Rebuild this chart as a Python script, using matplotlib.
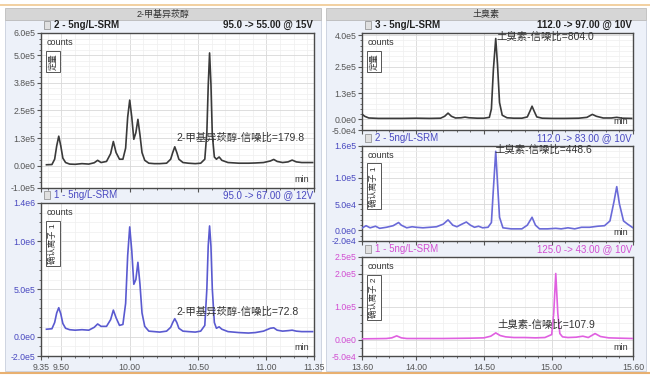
import matplotlib
matplotlib.use('Agg')
import matplotlib.pyplot as plt
from matplotlib.ticker import FixedLocator, MultipleLocator, NullFormatter
from matplotlib.patches import Rectangle

plt.rcParams['font.family'] = ['Liberation Sans', 'Noto Sans CJK SC']

# ---- data (time in min, counts) ----
mib_t = [9.39, 9.43, 9.45, 9.465, 9.48, 9.495, 9.51, 9.53, 9.56, 9.60, 9.65, 9.70, 9.74, 9.765,
         9.79, 9.83, 9.86, 9.88, 9.90, 9.925, 9.95, 9.97, 9.985, 10.0, 10.015, 10.03, 10.045,
         10.06, 10.075, 10.09, 10.11, 10.14, 10.18, 10.22, 10.27, 10.30, 10.315, 10.33, 10.345,
         10.36, 10.39, 10.43, 10.48, 10.52, 10.55, 10.565, 10.575, 10.585, 10.595, 10.605, 10.62,
         10.635, 10.655, 10.675, 10.72, 10.80, 10.87, 10.92, 10.98, 11.03, 11.055, 11.08, 11.12,
         11.16, 11.19, 11.22, 11.26, 11.30, 11.34]
mib_quant = [0.05, 0.06, 0.3, 0.9, 1.34, 0.9, 0.35, 0.15, 0.08, 0.07, 0.1, 0.08, 0.14, 0.25,
             0.15, 0.2, 0.55, 1.1, 0.6, 0.3, 0.3, 0.8, 2.2, 2.97, 2.2, 1.2, 1.5,
             2.1, 1.4, 0.6, 0.25, 0.12, 0.1, 0.1, 0.12, 0.3, 0.6, 0.86, 0.6,
             0.3, 0.15, 0.12, 0.1, 0.12, 0.3, 1.5, 3.6, 5.1, 3.7, 1.4, 0.4,
             0.3, 0.4, 0.25, 0.15, 0.12, 0.12, 0.13, 0.15, 0.22, 0.29, 0.2, 0.15,
             0.18, 0.26, 0.18, 0.15, 0.15, 0.15]  # x 1e5
mib_qual = [0.8, 0.85, 1.5, 2.5, 3.05, 2.4, 1.4, 0.9, 0.75, 0.7, 0.75, 0.7, 1.0, 1.35,
            1.1, 1.1, 1.8, 2.8, 2.0, 1.2, 1.3, 3.5, 8.5, 11.5, 9.0, 5.5, 6.0,
            7.8, 5.5, 2.5, 1.1, 0.6, 0.55, 0.5, 0.6, 1.0, 1.5, 1.9, 1.5,
            0.9, 0.6, 0.55, 0.5, 0.6, 1.2, 5.0, 9.5, 11.6, 9.5, 5.0, 1.5,
            0.9, 1.05, 0.8, 0.55, 0.45, 0.4, 0.45, 0.6, 0.9, 0.95, 0.7, 0.6,
            0.65, 0.7, 0.6, 0.55, 0.55, 0.55]  # x 1e5

geo_t1 = [13.60, 13.62, 13.65, 13.72, 13.80, 13.90, 14.00, 14.10, 14.18, 14.21, 14.235, 14.26,
          14.29, 14.33, 14.36, 14.39, 14.45, 14.50, 14.54, 14.555, 14.57, 14.587, 14.60, 14.615,
          14.635, 14.67, 14.72, 14.78, 14.82, 14.84, 14.855, 14.87, 14.89, 14.93, 15.00, 15.10,
          15.20, 15.26, 15.30, 15.33, 15.38, 15.44, 15.48, 15.52, 15.59]
geo_quant = [0.25, 0.15, 0.07, 0.05, 0.05, 0.05, 0.06, 0.05, 0.06, 0.15, 0.3, 0.15,
             0.07, 0.08, 0.11, 0.08, 0.06, 0.06, 0.1, 0.5, 2.4, 3.84, 2.6, 0.8,
             0.2, 0.08, 0.06, 0.06, 0.12, 0.4, 0.63, 0.4, 0.12, 0.06, 0.05, 0.05,
             0.06, 0.1, 0.24, 0.15, 0.07, 0.07, 0.1, 0.06, 0.05]  # x 1e5

geo_t2 = [13.60, 13.63, 13.66, 13.70, 13.73, 13.78, 13.83, 13.87, 13.89, 13.93, 13.97, 14.00,
          14.05, 14.10, 14.15, 14.20, 14.235, 14.27, 14.30, 14.33, 14.37, 14.40, 14.43, 14.46,
          14.49, 14.53, 14.555, 14.57, 14.587, 14.60, 14.615, 14.64, 14.70, 14.78, 14.82, 14.855,
          14.88, 14.91, 14.97, 15.03, 15.07, 15.12, 15.17, 15.22, 15.28, 15.34, 15.39, 15.43,
          15.46, 15.48, 15.50, 15.53, 15.56, 15.60]
geo_qual1 = [0.45, 0.9, 0.5, 0.8, 0.4, 0.6, 0.9, 1.5, 1.0, 0.5, 0.7, 0.6,
             0.5, 0.6, 0.7, 1.2, 2.0, 1.0, 0.7, 1.1, 1.6, 1.0, 0.6, 0.8,
             0.5, 0.6, 1.5, 8.0, 15.0, 9.0, 2.5, 0.5, 0.3, 0.3, 1.0, 2.5,
             1.0, 0.3, 0.3, 0.4, 0.3, 0.5, 0.3, 0.6, 0.6, 0.8, 0.9, 1.8,
             5.5, 8.3, 5.0, 1.8, 1.2, 0.5]  # x 1e4

geo_t3 = [13.60, 13.70, 13.78, 13.82, 13.856, 13.89, 13.93, 14.00, 14.10, 14.20, 14.30, 14.40,
          14.50, 14.55, 14.587, 14.62, 14.66, 14.72, 14.80, 14.88, 14.95, 15.00, 15.015, 15.03,
          15.045, 15.06, 15.08, 15.12, 15.18, 15.23, 15.27, 15.32, 15.36, 15.42, 15.50, 15.60]
geo_qual2 = [0.2, 0.25, 0.3, 0.5, 1.1, 0.5, 0.3, 0.3, 0.3, 0.3, 0.35, 0.4,
             0.5, 1.0, 2.0, 1.2, 0.8, 0.6, 0.6, 0.5, 0.6, 1.5, 8.0, 20.0,
             8.0, 1.8, 0.8, 0.6, 0.7, 1.0, 0.6, 1.8, 0.9, 0.5, 0.4, 0.3]  # x 1e4

left_xticks = [9.35, 9.50, 10.00, 10.50, 11.00, 11.35]
left_xlabels = ['9.35', '9.50', '10.00', '10.50', '11.00', '11.35']
right_xticks = [13.60, 14.00, 14.50, 15.00, 15.60]
right_xlabels = ['13.60', '14.00', '14.50', '15.00', '15.60']

tl_yticks = [-1.0e5, 0, 1.25e5, 2.5e5, 3.75e5, 5.0e5, 6.0e5]
tl_ylabels = ['-1.0e5', '0.0e0', '1.3e5', '2.5e5', '3.8e5', '5.0e5', '6.0e5']
bl_yticks = [-2.0e5, 0, 5.0e5, 1.0e6, 1.4e6]
bl_ylabels = ['-2.0e5', '0.0e0', '5.0e5', '1.0e6', '1.4e6']
tr_yticks = [-5.0e4, 0, 1.25e5, 2.5e5, 4.0e5]
tr_ylabels = ['-5.0e4', '0.0e0', '1.3e5', '2.5e5', '4.0e5']
mr_yticks = [-2.0e4, 0, 5.0e4, 1.0e5, 1.6e5]
mr_ylabels = ['-2.0e4', '0.0e0', '5.0e4', '1.0e5', '1.6e5']
br_yticks = [-5.0e4, 0, 1.0e5, 2.0e5, 2.5e5]
br_ylabels = ['-5.0e4', '0.0e0', '1.0e5', '2.0e5', '2.5e5']

W, H = 650, 381
fig = plt.figure(figsize=(W / 100, H / 100), dpi=100)

BLUE = '#4848c0'
MAG = '#d24ed2'
GRAY = '#555555'


def fx(x):
    return x / W


def fy(y):
    return 1 - y / H


def rect(x0, y0, x1, y1, **kw):
    fig.add_artist(Rectangle((fx(x0), fy(y1)), (x1 - x0) / W, (y1 - y0) / H,
                             transform=fig.transFigure, zorder=-10, **kw))


# column backgrounds and header bars
for x0, x1, name, cx in [(5, 321, '2-甲基异莰醇', 163), (326, 646, '土臭素', 486)]:
    rect(x0, 20, x1, 371, facecolor='#edf1f9', edgecolor='#c8cfdd', lw=0.6)
    rect(x0, 8, x1, 20, facecolor='#d6d6d6', edgecolor='#bdbdbd', lw=0.6)
    fig.text(fx(cx), fy(14), name, ha='center', va='center', fontsize=6.5, color='#333333')
fig.add_artist(plt.Line2D([0, 1], [fy(4.5), fy(4.5)], color='#f0c890', lw=1.2, transform=fig.transFigure))
fig.add_artist(plt.Line2D([0, 1], [fy(373), fy(373)], color='#e8b070', lw=1.5, transform=fig.transFigure))


def panel(box, t, v, scale, ylim, yticks, ylabels, yminor, xlim, xticks, xlabels,
          color, line_color, bold, title_l, title_r, tag, note, note_xy):
    l, top, r, b = box
    ax = fig.add_axes([fx(l), fy(b), (r - l) / W, (b - top) / H])
    ax.plot(t, [s * scale for s in v], color=line_color, lw=1.2, zorder=3)
    ax.set_xlim(xlim)
    ax.set_ylim(ylim)
    ax.yaxis.set_major_locator(FixedLocator(yticks))
    ax.set_yticklabels(ylabels)
    ax.yaxis.set_minor_locator(MultipleLocator(yminor))
    ax.xaxis.set_major_locator(FixedLocator(xticks))
    ax.xaxis.set_minor_locator(MultipleLocator(0.1))
    if xlabels:
        ax.set_xticklabels(xlabels)
    else:
        ax.xaxis.set_major_formatter(NullFormatter())
        ax.tick_params(axis='x', which='both', length=0)
    ax.tick_params(axis='y', which='major', length=3, labelsize=6.3, labelcolor=color, color=GRAY, pad=1)
    ax.tick_params(axis='y', which='minor', length=1.5, color=GRAY)
    ax.tick_params(axis='x', which='major', length=3, labelsize=6.3, labelcolor=GRAY, color=GRAY, pad=2)
    ax.tick_params(axis='x', which='minor', length=1.5, color=GRAY)
    ax.grid(True, which='major', color='#d8d8d8', lw=0.6)
    ax.grid(True, which='minor', color='#efefef', lw=0.5)
    ax.set_axisbelow(True)
    for s in ax.spines.values():
        s.set_color('#4a4a4a')
        s.set_linewidth(1.0)
    ax.annotate('counts', xy=(0, 1), xycoords='axes fraction', xytext=(6, -5),
                textcoords='offset pixels', fontsize=6.5, color='#333333', va='top')
    ax.annotate(tag, xy=(0, 1), xycoords='axes fraction', xytext=(12, -20),
                textcoords='offset pixels', fontsize=6, color='#333333', va='top', ha='center',
                rotation=90, bbox=dict(boxstyle='square,pad=0.3', fc='white', ec='#555555', lw=0.7))
    ax.annotate('min', xy=(1, 0), xycoords='axes fraction', xytext=(-5, 4),
                textcoords='offset pixels', fontsize=6.5, color='#333333', ha='right', va='bottom')
    ax.text(note_xy[0], note_xy[1], note, fontsize=7.5, color='#333333', ha='left', va='center', zorder=4)
    weight = 'bold' if bold else 'normal'
    tcol = '#222222' if bold else color
    rect(l + 3, top - 12, l + 9, top - 4, facecolor='#e0e0e0', edgecolor='#888888', lw=0.5)
    fig.text(fx(l + 13), fy(top - 8), title_l, fontsize=7, fontweight=weight, color=tcol, va='center')
    fig.text(fx(r - 1), fy(top - 8), title_r, fontsize=7, fontweight=weight, color=tcol, va='center', ha='right')
    return ax


panel((41, 33, 314, 188), mib_t, mib_quant, 1e5, (-1.0e5, 6.0e5), tl_yticks, tl_ylabels, 0.25e5,
      (9.35, 11.35), left_xticks, None, GRAY, '#3a3a3a', True,
      '2 - 5ng/L-SRM', '95.0 -> 55.00 @ 15V', '定量', '2-甲基异莰醇-信噪比=179.8', (10.34, 1.25e5))
panel((41, 203, 314, 356), mib_t, mib_qual, 1e5, (-2.0e5, 1.4e6), bl_yticks, bl_ylabels, 1.0e5,
      (9.35, 11.35), left_xticks, left_xlabels, BLUE, '#5a5ad0', False,
      '1 - 5ng/L-SRM', '95.0 -> 67.00 @ 12V', '确认离子 1', '2-甲基异莰醇-信噪比=72.8', (10.34, 2.6e5))
panel((362, 33, 633, 130), geo_t1, geo_quant, 1e5, (-5.0e4, 4.1e5), tr_yticks, tr_ylabels, 0.25e5,
      (13.6, 15.6), right_xticks, None, GRAY, '#3a3a3a', True,
      '3 - 5ng/L-SRM', '112.0 -> 97.00 @ 10V', '定量', '土臭素-信噪比=804.0', (14.59, 3.9e5))
panel((362, 146, 633, 241), geo_t2, geo_qual1, 1e4, (-2.0e4, 1.6e5), mr_yticks, mr_ylabels, 1.0e4,
      (13.6, 15.6), right_xticks, None, BLUE, '#6a6ad8', False,
      '2 - 5ng/L-SRM', '112.0 -> 83.00 @ 10V', '确认离子 1', '土臭素-信噪比=448.6', (14.58, 1.53e5))
panel((362, 257, 633, 356), geo_t3, geo_qual2, 1e4, (-5.0e4, 2.5e5), br_yticks, br_ylabels, 2.5e4,
      (13.6, 15.6), right_xticks, right_xlabels, MAG, '#e060e0', False,
      '1 - 5ng/L-SRM', '125.0 -> 43.00 @ 10V', '确认离子 2', '土臭素-信噪比=107.9', (14.60, 0.46e5))

fig.savefig('out.png', dpi=100)
